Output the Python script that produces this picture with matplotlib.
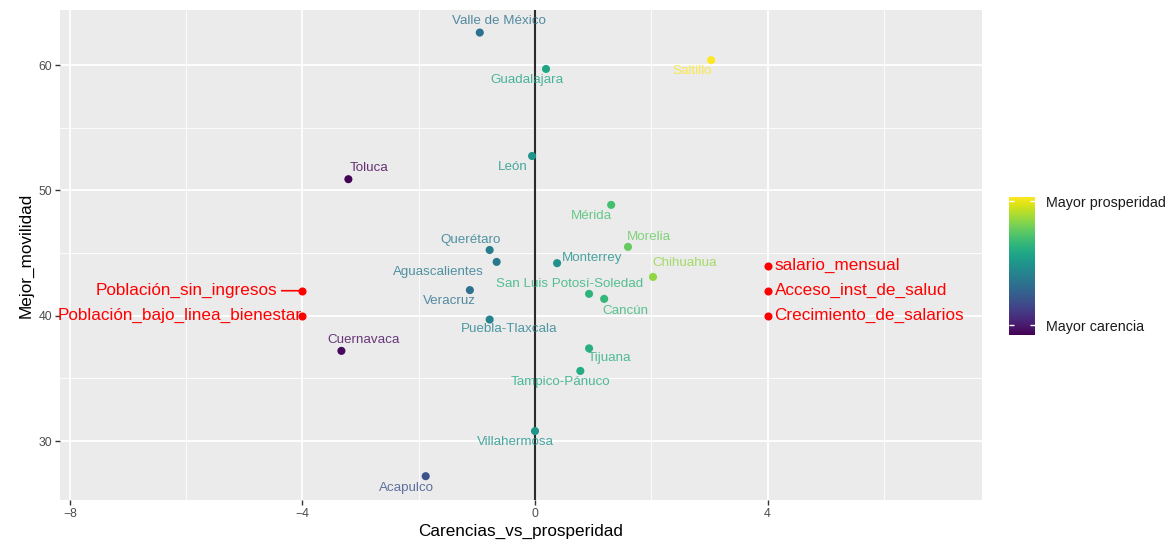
import matplotlib
matplotlib.use("Agg")
import matplotlib.pyplot as plt
import numpy as np
from matplotlib import cm
from matplotlib.colors import Normalize

# --- data ---
CITIES = [
    "Valle de México", "Guadalajara", "Saltillo", "León", "Toluca", "Mérida",
    "Querétaro", "Morelia", "Aguascalientes", "Monterrey", "Chihuahua",
    "Veracruz", "San Luis Potosí-Soledad", "Cancún", "Puebla-Tlaxcala",
    "Cuernavaca", "Tijuana", "Tampico-Pánuco", "Villahermosa", "Acapulco",
]
CARENCIAS = [-0.95, 0.19, 3.03, -0.05, -3.21, 1.31, -0.78, 1.60, -0.66, 0.38,
             2.03, -1.12, 0.93, 1.19, -0.78, -3.33, 0.93, 0.78, 0.0, -1.88]
MOVILIDAD = [62.6, 59.7, 60.4, 52.75, 50.9, 48.85, 45.25, 45.5, 44.3, 44.2,
             43.1, 42.05, 41.75, 41.35, 39.7, 37.2, 37.4, 35.6, 30.8, 27.2]
PROSPERIDAD = [0.33, 0.58, 1.03, 0.50, -0.07, 0.70, 0.38, 0.77, 0.37, 0.48,
               0.85, 0.33, 0.64, 0.66, 0.42, -0.05, 0.62, 0.60, 0.50, 0.20]

LEFT_VARS = ["Población_sin_ingresos", "Población_bajo_linea_bienestar"]
LEFT_X = [-4, -4]
LEFT_Y = [42, 40]
RIGHT_VARS = ["salario_mensual", "Acceso_inst_de_salud", "Crecimiento_de_salarios"]
RIGHT_X = [4, 4, 4]
RIGHT_Y = [44, 42, 40]

# label offsets (points) for the city names, repel-style
LABEL_OFFSETS = [(14, 8), (-14, -8), (-14, -8), (-14, -8), (15, 8), (-14, -8),
                 (-14, 7), (15, 7), (-42, -7), (25, 4), (23, 10), (-15, -8),
                 (-14, 7), (15, -8.5), (14, -7), (16, 8), (15, -7), (-14, -8),
                 (-14, -8), (-14, -8.5)]

plt.rcParams["font.family"] = ["Liberation Sans", "DejaVu Sans"]

fig = plt.figure(figsize=(11.68, 5.42), dpi=100)
ax = fig.add_axes([0.0514, 0.0775, 0.7894, 0.904])
ax.set_facecolor("#EBEBEB")

ax.set_xlim(-8.17, 7.69)
ax.set_ylim(25.3, 64.4)
ax.set_xticks([-8, -4, 0, 4])
ax.set_yticks([30, 40, 50, 60])
ax.set_xticks([-6, -2, 2, 6], minor=True)
ax.set_yticks([35, 45, 55], minor=True)
ax.grid(which="major", color="white", linewidth=1.3)
ax.grid(which="minor", color="white", linewidth=0.6)
ax.set_axisbelow(True)
for s in ax.spines.values():
    s.set_visible(False)
ax.tick_params(which="major", length=3.5, width=1, color="#333333",
               labelsize=8.8, labelcolor="#4D4D4D", pad=2)
ax.tick_params(which="minor", length=0)

ax.axvline(0, color="#2B2B2B", linewidth=1.5, zorder=2)

norm = Normalize(vmin=-0.078, vmax=1.033)
cmap = plt.get_cmap("viridis")

ax.scatter(CARENCIAS, MOVILIDAD, c=PROSPERIDAD, cmap=cmap, norm=norm,
           s=34, linewidths=0, zorder=4)
for name, x, y, v, off in zip(CITIES, CARENCIAS, MOVILIDAD, PROSPERIDAD, LABEL_OFFSETS):
    ax.annotate(name, (x, y), xytext=off, textcoords="offset points",
                ha="center", va="center", fontsize=9.6,
                color=cmap(norm(v)), alpha=0.8, zorder=3)

# variable markers (red)
ax.scatter(LEFT_X + RIGHT_X, LEFT_Y + RIGHT_Y, color="red", s=34,
           linewidths=0, zorder=6)
ax.annotate(LEFT_VARS[0], (LEFT_X[0], LEFT_Y[0]), xytext=(-18, 0),
            textcoords="offset points", ha="right", va="center",
            fontsize=12.3, color="red", zorder=5,
            arrowprops=dict(arrowstyle="-", color="red", lw=1.2,
                            shrinkA=1, shrinkB=2))
ax.annotate(LEFT_VARS[1], (LEFT_X[1], LEFT_Y[1]), xytext=(-0.5, 0),
            textcoords="offset points", ha="right", va="center",
            fontsize=12.3, color="red", zorder=5)
for name, x, y in zip(RIGHT_VARS, RIGHT_X, RIGHT_Y):
    ax.annotate(name, (x, y), xytext=(5, 0), textcoords="offset points",
                ha="left", va="center", fontsize=12.3, color="red", zorder=5)

ax.set_xlabel("Carencias_vs_prosperidad", fontsize=12.3, labelpad=3)
ax.set_ylabel("Mejor_movilidad", fontsize=12.3, labelpad=4)

# colour bar
cax = fig.add_axes([0.8639, 0.3819, 0.0222, 0.2546])
sm = cm.ScalarMappable(norm=norm, cmap=cmap)
cb = fig.colorbar(sm, cax=cax)
cb.outline.set_visible(False)
cb.set_ticks([0, 1])
cb.set_ticklabels(["Mayor carencia", "Mayor prosperidad"])
cax.tick_params(length=0, labelsize=10.3, colors="#1A1A1A", pad=8)
cax.hlines([0, 1], 0, 0.2, color="white", lw=1)
cax.hlines([0, 1], 0.8, 1, color="white", lw=1)

fig.savefig("out.png", dpi=100)
